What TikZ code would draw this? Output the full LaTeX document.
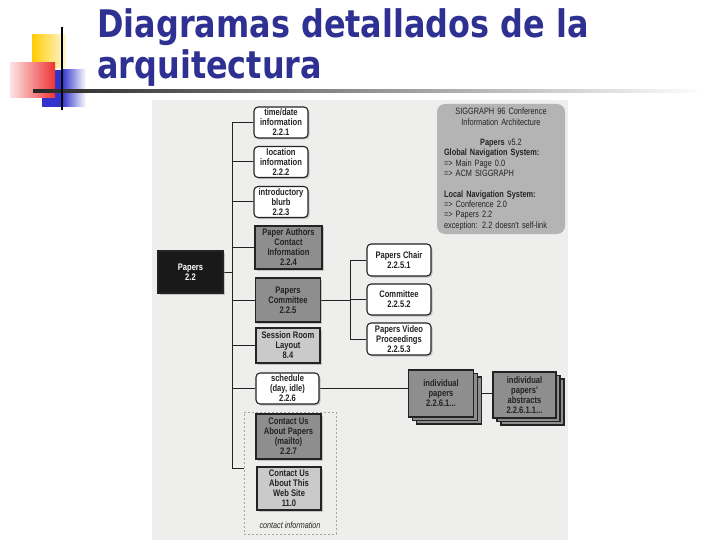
\documentclass[tikz,border=0pt]{standalone}
\usepackage{fontspec}
\usepackage{xcolor}
\usetikzlibrary{shadows,backgrounds}

\newfontfamily\titlefont[FakeStretch=0.84]{DejaVu Sans}
\newfontfamily\boxfont[FakeStretch=0.8]{Liberation Sans}

\definecolor{titleblue}{RGB}{46,49,146}
\definecolor{decoyellow}{RGB}{255,204,0}
\definecolor{decoblue}{RGB}{51,51,204}
\definecolor{decored}{RGB}{235,30,30}
\definecolor{boxdark}{RGB}{142,142,142}
\definecolor{boxlight}{RGB}{202,202,202}
\definecolor{navbox}{RGB}{180,180,180}
\definecolor{ink}{RGB}{35,35,35}
\definecolor{scan}{RGB}{238,238,236}

\tikzset{
  every node/.style={font=\boxfont\bfseries\fontsize{9.5}{10}\selectfont, text=ink, align=center},
  box/.style={draw=ink, line width=1.1pt, inner xsep=3pt, inner ysep=1pt,
    drop shadow={shadow xshift=1.5pt, shadow yshift=-1.5pt, fill=black!40}},
  roundbox/.style={box, fill=white, rounded corners=4pt, minimum width=54pt, minimum height=31pt},
  darkbox/.style={box, fill=boxdark, minimum width=65pt},
  lightbox/.style={box, fill=boxlight, minimum width=64pt},
  stackbox/.style={draw=ink, line width=1.1pt, fill=boxdark, inner sep=1pt,
    minimum width=65pt, minimum height=47pt,
    double copy shadow={shadow xshift=4pt, shadow yshift=-3.5pt}},
  link/.style={draw=ink, line width=1pt},
}

\begin{document}
\begin{tikzpicture}[x=1pt,y=-1pt]
    \useasboundingbox (0,0) rectangle (720,540);

    % title decoration
    \shade[left color=decoyellow, right color=decoyellow!15] (32,35) rectangle (66,68);
    \fill[decoblue] (42,70) rectangle (62,107);
    \shade[left color=decoblue, right color=white] (62,70) rectangle (86,107);
    \shade[left color=decored!12, right color=decored!90] (10,63) rectangle (55,98);
    \shade[left color=black!85, right color=white] (33,89.5) rectangle (705,92.5);
    \draw[line width=2.5pt, black] (62,27) -- (62,110);

    \node[anchor=north west, inner sep=0, align=left, text=titleblue,
      font=\titlefont\bfseries\fontsize{38}{41}\selectfont] (title) at (97,8)
      {Diagramas detallados de la\\arquitectura};

    % main pages
    \node[box, fill=black!90, text=white, minimum width=65pt, minimum height=42pt] (papers) at (190.5,272) {Papers\\2.2};
    \node[roundbox] (t221) at (281,122.5) {time/date\\information\\2.2.1};
    \node[roundbox] (l222) at (281,162) {location\\information\\2.2.2};
    \node[roundbox] (i223) at (281,202) {introductory\\blurb\\2.2.3};
    \node[darkbox, minimum width=67pt, minimum height=43pt] (p224) at (288.5,247.5) {Paper Authors\\Contact\\Information\\2.2.4};
    \node[darkbox, minimum height=44pt] (p225) at (288,300) {Papers\\Committee\\2.2.5};
    \node[lightbox, minimum height=35pt] (s84) at (288,345.5) {Session Room\\Layout\\8.4};
    \node[roundbox, minimum width=63pt] (sched) at (287.5,388.5) {schedule\\(day, idle)\\2.2.6};

    % contact group
    \node[draw=gray!70, dash pattern=on 2pt off 2pt, line width=0.8pt, minimum width=92pt, minimum height=122pt,
      label={[anchor=south, yshift=2pt, font=\boxfont\itshape\fontsize{9}{10}\selectfont]south:contact information}] (contact) at (290,473) {};
    \node[darkbox, minimum height=45pt] (c227) at (288.5,436.5) {Contact Us\\About Papers\\(mailto)\\2.2.7};
    \node[lightbox, minimum height=43pt] (c110) at (289,488.5) {Contact Us\\About This\\Web Site\\11.0};

    % committee pages
    \node[roundbox, minimum width=64pt, minimum height=32pt] (pc2251) at (399,260) {Papers Chair\\2.2.5.1};
    \node[roundbox, minimum width=64pt, minimum height=31pt] (c2252) at (399,299.5) {Committee\\2.2.5.2};
    \node[roundbox, minimum width=64pt, minimum height=32pt] (pv2253) at (399,339) {Papers Video\\Proceedings\\2.2.5.3};

    % schedule pages
    \node[stackbox] (ip) at (441,393.5) {individual\\papers\\2.2.6.1...};
    \node[stackbox, minimum width=63pt, minimum height=46pt] (ipa) at (524.5,395) {individual\\papers'\\abstracts\\2.2.6.1.1...};

    % navigation note
    \node[fill=navbox, rounded corners=8pt, text width=114pt, inner xsep=7pt, inner ysep=4pt, minimum height=130pt,
      align=left, font=\boxfont\fontsize{9.2}{10.3}\selectfont] (nav) at (501,169)
      {{\centering SIGGRAPH 96 Conference\\Information Architecture\\[10.3pt]
       \textbf{Papers} v5.2\par}
       \textbf{Global Navigation System:}\\
       => Main Page 0.0\\
       => ACM SIGGRAPH\\[10.3pt]
       \textbf{Local Navigation System:}\\
       => Conference 2.0\\
       => Papers 2.2\\
       exception: 2.2 doesn't self-link};

    \coordinate (trunk) at (232,0);
    \coordinate (branch) at (350,0);
    \coordinate (contactin) at ([yshift=5pt]contact.west);

    \begin{scope}[on background layer]
        \fill[scan] (152,100) rectangle (568,540);
        \draw[link] (t221.west -| trunk) -- (contactin -| trunk);
        \draw[link] (papers.east) -- (papers.east -| trunk);
        \foreach \n in {t221,l222,i223,p224,p225,s84,sched}
            \draw[link] (\n.west -| trunk) -- (\n.west);
        \draw[link] (contactin -| trunk) -- (contactin);
        \draw[link] (p225.east) -- (p225.east -| branch);
        \draw[link] (pc2251.west -| branch) -- (pv2253.west -| branch);
        \foreach \n in {pc2251,c2252,pv2253}
            \draw[link] (\n.west -| branch) -- (\n.west);
        \draw[link] (sched.east) -- (sched.east -| ip.west);
        \draw[link] (ip.east) -- (ip.east -| ipa.west);
    \end{scope}
\end{tikzpicture}
\end{document}
